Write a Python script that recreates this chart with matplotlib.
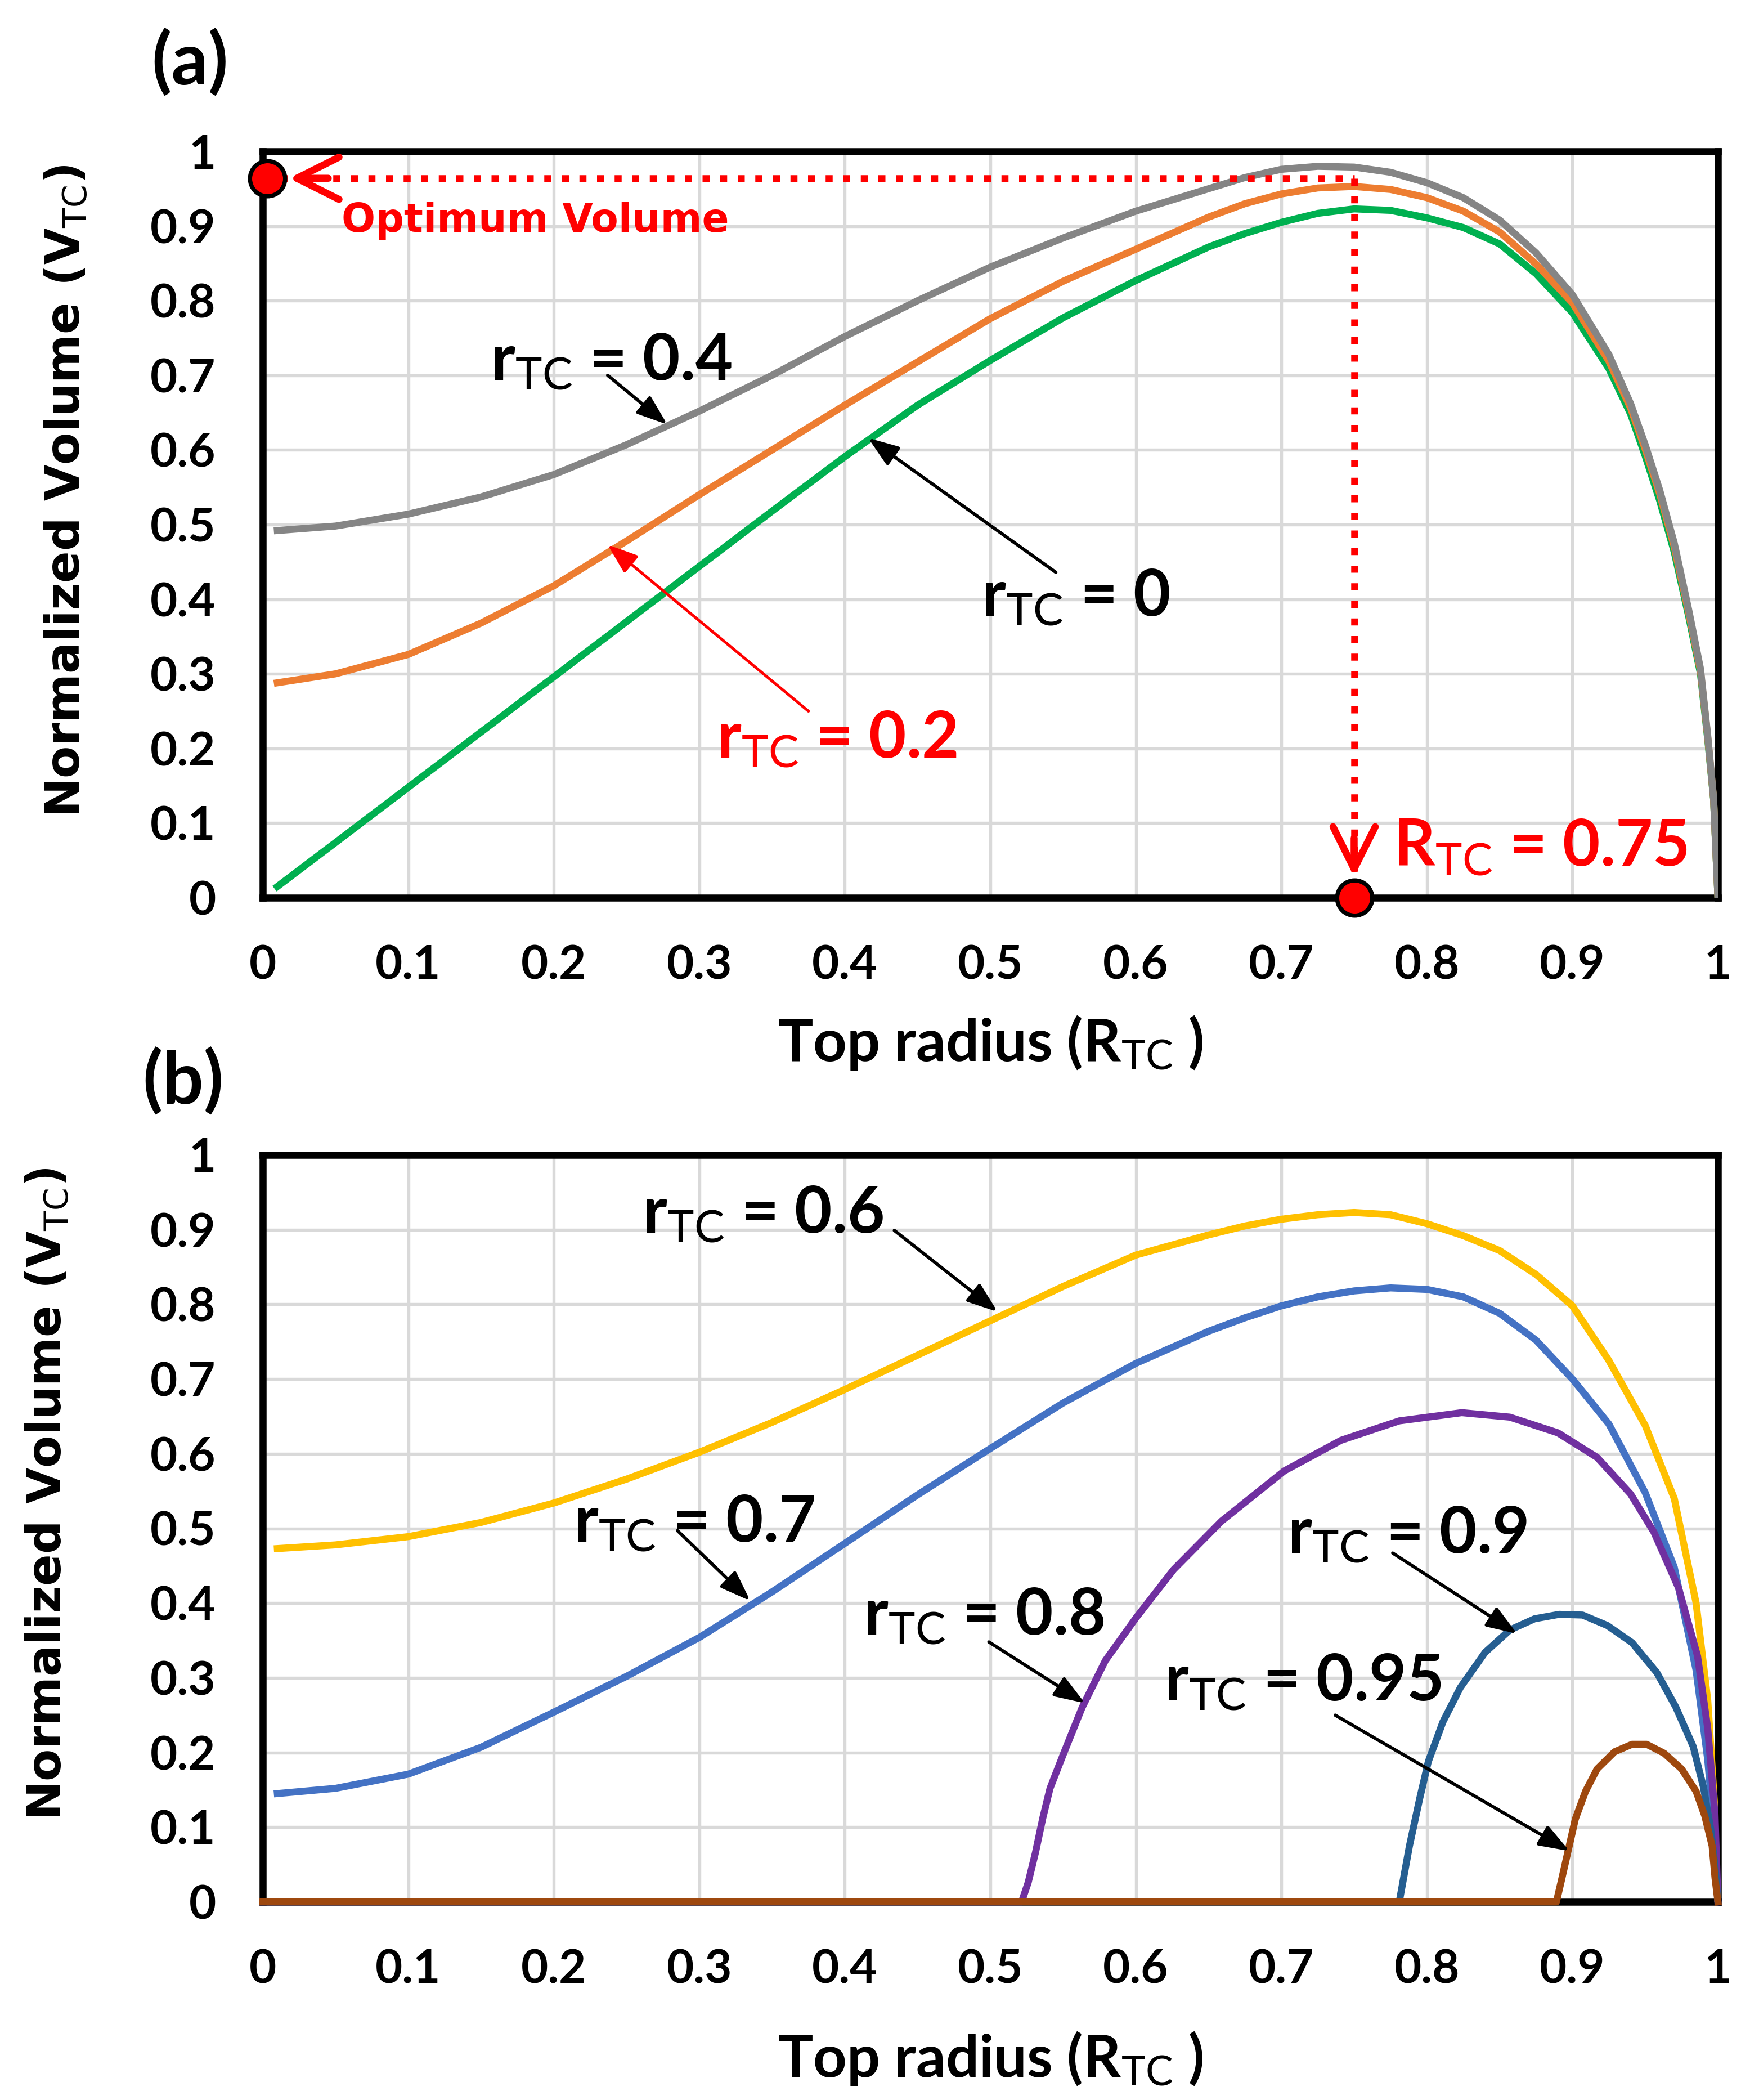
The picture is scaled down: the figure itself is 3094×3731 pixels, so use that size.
import matplotlib
matplotlib.use('Agg')
import matplotlib.pyplot as plt
import numpy as np

plt.rcParams['font.family'] = ['Lato', 'DejaVu Sans']
plt.rcParams['mathtext.fontset'] = 'custom'
plt.rcParams['mathtext.rm'] = 'Lato'
plt.rcParams['mathtext.bf'] = 'Lato:bold'
plt.rcParams['mathtext.it'] = 'Lato:italic'

# ---- panel (a) data ----
R_a = [0.01, 0.05, 0.1, 0.15, 0.2, 0.25, 0.3, 0.35, 0.4, 0.45,
       0.5, 0.55, 0.6, 0.65, 0.675, 0.7, 0.725, 0.75, 0.775, 0.8,
       0.825, 0.85, 0.875, 0.9, 0.925, 0.94, 0.95, 0.96, 0.97, 0.98,
       0.988, 0.993, 0.997, 1.0]
V_r00 = [0.015, 0.074, 0.148, 0.222, 0.296, 0.370, 0.444, 0.518, 0.591, 0.660,
         0.720, 0.777, 0.827, 0.872, 0.890, 0.905, 0.917, 0.923, 0.921, 0.911,
         0.898, 0.876, 0.836, 0.784, 0.709, 0.648, 0.592, 0.532, 0.463, 0.376,
         0.300, 0.212, 0.132, 0.0]
V_r02 = [0.288, 0.300, 0.326, 0.368, 0.418, 0.478, 0.540, 0.600, 0.660, 0.718,
         0.776, 0.826, 0.869, 0.912, 0.930, 0.943, 0.951, 0.953, 0.949, 0.938,
         0.920, 0.892, 0.849, 0.797, 0.719, 0.656, 0.601, 0.541, 0.470, 0.381,
         0.304, 0.215, 0.133, 0.0]
V_r04 = [0.492, 0.498, 0.514, 0.537, 0.567, 0.607, 0.652, 0.700, 0.752, 0.800,
         0.845, 0.884, 0.920, 0.950, 0.965, 0.976, 0.980, 0.979, 0.972, 0.958,
         0.938, 0.908, 0.864, 0.808, 0.728, 0.662, 0.607, 0.546, 0.475, 0.385,
         0.307, 0.217, 0.134, 0.0]

R_opt = 0.75
V_opt = 0.964

# ---- panel (b) data ----
R_b = [0.01, 0.05, 0.1, 0.15, 0.2, 0.25, 0.3, 0.35, 0.4, 0.45,
       0.5, 0.55, 0.6, 0.65, 0.675, 0.7, 0.725, 0.75, 0.775, 0.8,
       0.825, 0.85, 0.875, 0.9, 0.925, 0.95, 0.97, 0.985, 0.993, 0.998,
       1.0]
V_r06 = [0.473, 0.478, 0.489, 0.508, 0.534, 0.566, 0.602, 0.642, 0.686, 0.732,
         0.778, 0.824, 0.866, 0.893, 0.905, 0.914, 0.920, 0.923, 0.920, 0.908,
         0.892, 0.872, 0.840, 0.798, 0.725, 0.638, 0.540, 0.400, 0.270, 0.120,
         0.0]
V_r07 = [0.145, 0.152, 0.171, 0.207, 0.254, 0.302, 0.354, 0.415, 0.480, 0.545,
         0.607, 0.668, 0.721, 0.764, 0.782, 0.798, 0.810, 0.818, 0.822, 0.820,
         0.810, 0.788, 0.752, 0.700, 0.640, 0.548, 0.448, 0.310, 0.190, 0.080,
         0.0]
R_r08 = [0.0, 0.5215, 0.526, 0.531, 0.536, 0.541, 0.55, 0.563, 0.579, 0.6,
         0.626, 0.659, 0.702, 0.741, 0.781, 0.824, 0.857, 0.89, 0.917, 0.94,
         0.956, 0.973, 0.986, 0.993, 0.998, 1.0]
V_r08 = [0.0, 0.0, 0.026, 0.066, 0.112, 0.152, 0.197, 0.260, 0.323, 0.380,
         0.445, 0.510, 0.577, 0.618, 0.644, 0.655, 0.649, 0.628, 0.595, 0.546,
         0.495, 0.420, 0.329, 0.232, 0.117, 0.0]
R_r09 = [0.0, 0.781, 0.788, 0.795, 0.801, 0.811, 0.823, 0.840, 0.857, 0.874,
         0.891, 0.907, 0.924, 0.941, 0.958, 0.971, 0.983, 0.990, 0.995, 0.998,
         1.0]
V_r09 = [0.0, 0.0, 0.075, 0.138, 0.188, 0.241, 0.287, 0.334, 0.364, 0.379,
         0.385, 0.384, 0.370, 0.347, 0.307, 0.261, 0.208, 0.154, 0.098, 0.048,
         0.0]
R_r095 = [0.0, 0.889, 0.892, 0.897, 0.902, 0.909, 0.917, 0.929, 0.941, 0.951,
          0.963, 0.975, 0.985, 0.991, 0.996, 0.998, 1.0]
V_r095 = [0.0, 0.0, 0.025, 0.068, 0.111, 0.148, 0.178, 0.201, 0.211, 0.211,
          0.199, 0.178, 0.148, 0.115, 0.075, 0.032, 0.0]

tick_vals = [0, 0.1, 0.2, 0.3, 0.4, 0.5, 0.6, 0.7, 0.8, 0.9, 1]
tick_labels = ['0', '0.1', '0.2', '0.3', '0.4', '0.5', '0.6', '0.7', '0.8', '0.9', '1']

W, H = 3094, 3731
fig = plt.figure(figsize=(W / 300, H / 300), dpi=300)

ax_a = fig.add_axes([467 / W, 1 - 1595 / H, 2586 / W, 1326 / H])
ax_b = fig.add_axes([467 / W, 1 - 3379 / H, 2586 / W, 1327 / H])

for ax in (ax_a, ax_b):
    ax.set_xlim(0, 1)
    ax.set_ylim(0, 1)
    ax.set_xticks(tick_vals)
    ax.set_xticklabels(tick_labels)
    ax.set_yticks(tick_vals)
    ax.set_yticklabels(tick_labels)
    ax.grid(True, color='#D9D9D9', lw=1.3)
    ax.set_axisbelow(True)
    ax.tick_params(length=0, labelsize=20, pad=20)
    for lab in ax.get_xticklabels() + ax.get_yticklabels():
        lab.set_fontweight('bold')
    for s in ax.spines.values():
        s.set_linewidth(3)
        s.set_color('black')

# x / y labels as free text
ylab = r'Normalized Volume (V$_{\mathrm{TC}}$)'
xlab = r'Top radius (R$_{\mathrm{TC}}$ )'
ax_a.text(-0.135, 0.545, ylab, transform=ax_a.transAxes, rotation=90, ha='center',
          va='center', fontsize=20, fontweight='bold', family='DejaVu Sans',
          math_fontfamily='dejavusans')
ax_b.text(-0.148, 0.546, ylab, transform=ax_b.transAxes, rotation=90, ha='center',
          va='center', fontsize=20, fontweight='bold', family='DejaVu Sans',
          math_fontfamily='dejavusans')
ax_a.text(0.5, -0.194, xlab, transform=ax_a.transAxes, ha='center', va='center',
          fontsize=25, fontweight='bold')
ax_b.text(0.5, -0.21, xlab, transform=ax_b.transAxes, ha='center', va='center',
          fontsize=25, fontweight='bold')

fig.text(338 / W, 1 - 112 / H, '(a)', ha='center', va='center', fontsize=31, fontweight='bold')
fig.text(325 / W, 1 - 1922 / H, '(b)', ha='center', va='center', fontsize=31, fontweight='bold')

# ---- panel (a) curves ----
lw = 3.0
ax_a.plot(R_a, V_r00, color='#00B050', lw=lw, zorder=3)
ax_a.plot(R_a, V_r02, color='#ED7D31', lw=lw, zorder=3)
ax_a.plot(R_a, V_r04, color='#858585', lw=lw, zorder=3)

# optimum guide lines
dot = (0, (1, 1.5))
ax_a.plot([0.012, R_opt], [V_opt, V_opt], color='red', lw=3, ls=dot, zorder=4)
ax_a.plot([R_opt, R_opt], [V_opt, 0.035], color='red', lw=3, ls=dot, zorder=4)
ax_a.annotate('', xy=(0.018, V_opt), xytext=(0.045, V_opt),
              arrowprops=dict(arrowstyle='->,head_length=0.9,head_width=0.45', color='red',
                              lw=3, shrinkA=0, shrinkB=0, mutation_scale=20), zorder=4)
ax_a.annotate('', xy=(R_opt, 0.028), xytext=(R_opt, 0.08),
              arrowprops=dict(arrowstyle='->,head_length=0.9,head_width=0.45', color='red',
                              lw=3, shrinkA=0, shrinkB=0, mutation_scale=20), zorder=4)
ax_a.plot([0.003], [V_opt], 'o', ms=15, mfc='red', mec='black', mew=1.8, clip_on=False, zorder=6)
ax_a.plot([R_opt], [0], 'o', ms=15, mfc='red', mec='black', mew=1.8, clip_on=False, zorder=6)

ax_a.text(0.054, 0.892, 'Optimum Volume', color='red', fontsize=17, fontweight='bold',
          family='DejaVu Sans', va='baseline', ha='left', zorder=5)


def callout(ax, tx, ty, txt, tail, tip, color='black', alw=1.4):
    ax.text(tx, ty, txt, color=color, fontsize=27.5, fontweight='bold', ha='left',
            va='baseline', zorder=5)
    ax.annotate('', xy=tip, xytext=tail,
                arrowprops=dict(arrowstyle='-|>,head_length=0.55,head_width=0.2',
                                color=color, lw=alw, shrinkA=0, shrinkB=0,
                                mutation_scale=20), zorder=5)


def rlabel(v):
    return r'$\mathbf{r}_{\mathrm{TC}}$ = ' + v


callout(ax_a, 0.1565, 0.694, rlabel('0.4'), (0.237, 0.700), (0.278, 0.634))
callout(ax_a, 0.494, 0.378, rlabel('0'), (0.545, 0.436), (0.416, 0.616))
callout(ax_a, 0.312, 0.188, rlabel('0.2'), (0.375, 0.250), (0.237, 0.473), color='red', alw=1.2)
ax_a.text(0.777, 0.043, r'$\mathbf{R}_{\mathrm{TC}}$ = 0.75', color='red', fontsize=27.5,
          fontweight='bold', ha='left', va='baseline', zorder=5)

# ---- panel (b) curves ----
ax_b.plot(R_b, V_r06, color='#FFC000', lw=lw, zorder=3)
ax_b.plot(R_b, V_r07, color='#4472C4', lw=lw, zorder=3)
ax_b.plot(R_r08, V_r08, color='#7030A0', lw=lw, zorder=3, clip_on=False)
ax_b.plot(R_r09, V_r09, color='#255E91', lw=lw, zorder=3, clip_on=False)
ax_b.plot(R_r095, V_r095, color='#9E480E', lw=lw, zorder=3, clip_on=False)

callout(ax_b, 0.261, 0.896, rlabel('0.6'), (0.434, 0.899), (0.505, 0.790))
callout(ax_b, 0.2137, 0.482, rlabel('0.7'), (0.285, 0.497), (0.335, 0.403))
callout(ax_b, 0.413, 0.358, rlabel('0.8'), (0.499, 0.348), (0.565, 0.266))
callout(ax_b, 0.704, 0.467, rlabel('0.9'), (0.7765, 0.467), (0.862, 0.359))
callout(ax_b, 0.6195, 0.270, rlabel('0.95'), (0.737, 0.250), (0.898, 0.068))

fig.savefig('out.png', dpi=300)
